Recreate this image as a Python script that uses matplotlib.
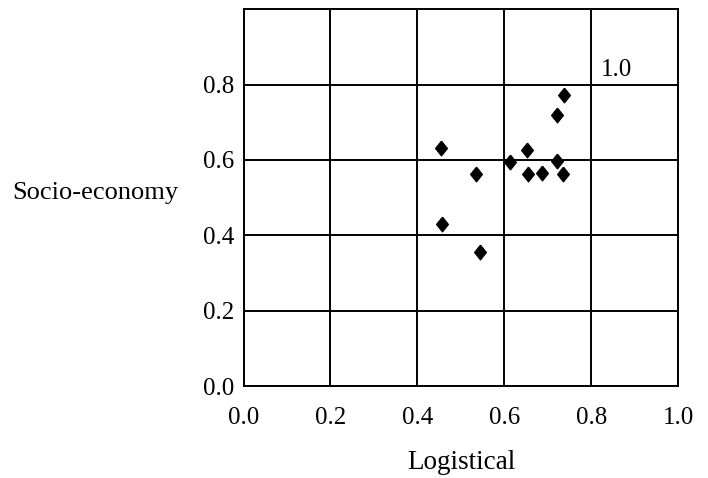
import matplotlib.pyplot as plt

# Logistical vs socio-economy scores
logistical = [0.454, 0.534, 0.457, 0.543, 0.613, 0.652, 0.655, 0.687, 0.722, 0.738, 0.722, 0.734]
socio_economy = [0.632, 0.563, 0.430, 0.357, 0.595, 0.627, 0.563, 0.565, 0.718, 0.771, 0.596, 0.562]
x_ticks = [0.0, 0.2, 0.4, 0.6, 0.8, 1.0]
y_ticks = [0.0, 0.2, 0.4, 0.6, 0.8]

plt.rcParams["font.family"] = ["Liberation Serif", "DejaVu Serif"]

fig = plt.figure(figsize=(7.08, 4.78), dpi=100)
ax = fig.add_axes([0.344, 0.192, 0.614, 0.789])

diamond = [(0, 1), (0.8, 0), (0, -1), (-0.8, 0), (0, 1)]
ax.plot(logistical, socio_economy, linestyle="none", marker=diamond,
        markersize=10.5, color="black", zorder=3)

ax.set_xlim(0, 1)
ax.set_ylim(0, 1)
ax.set_xticks(x_ticks)
ax.set_yticks(y_ticks)
ax.set_xticklabels([f"{t:.1f}" for t in x_ticks], fontsize=18)
ax.set_yticklabels([f"{t:.1f}" for t in y_ticks], fontsize=18)
ax.tick_params(axis="x", length=0, pad=15)
ax.tick_params(axis="y", length=0, pad=7)
ax.grid(True, color="black", linewidth=1.4)
for s in ax.spines.values():
    s.set_linewidth(1.4)

# stray "1.0" label that sits inside the top-right cell
ax.text(0.822, 0.808, "1.0", fontsize=18, ha="left", va="bottom")

ax.set_xlabel("Logistical", fontsize=19.5, labelpad=15)
fig.text(0.017, 0.597, "Socio-economy", fontsize=19, ha="left", va="center")

fig.savefig("out.png", dpi=100)
